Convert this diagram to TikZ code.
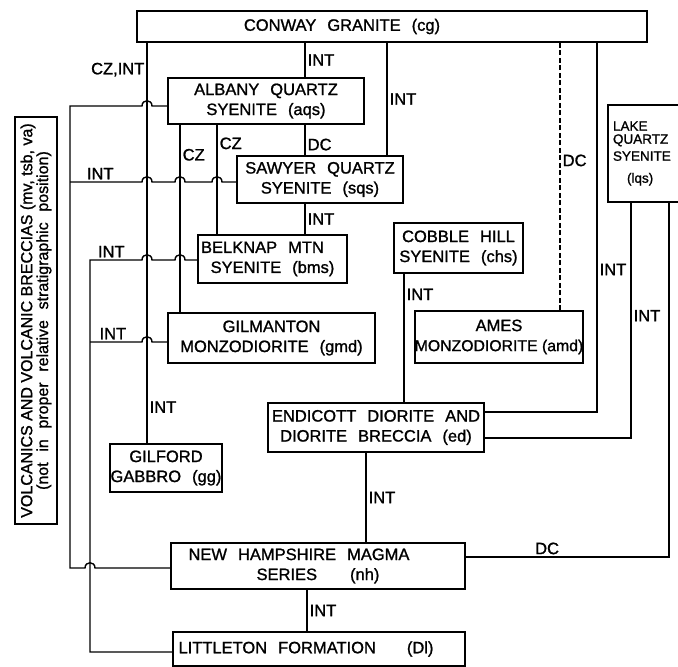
\documentclass[tikz,border=0pt]{standalone}
\usepackage{fontspec}
\setmainfont{Liberation Sans}[WordSpace=2.4, FakeBold=1.2]
\newfontfamily\tightfont{Liberation Sans}[FakeBold=1.2]

% line hops where a horizontal crosses a vertical (going left / going right)
\newcommand{\hopl}[2]{-- (#1+5,#2) .. controls (#1+5,#2-7) and (#1-5,#2-7) .. (#1-5,#2)}
\newcommand{\hopr}[2]{-- (#1-5,#2) .. controls (#1-5,#2-7) and (#1+5,#2-7) .. (#1+5,#2)}

\begin{document}
\begin{tikzpicture}[x=1pt, y=-1pt,
    font=\fontsize{16.5}{20}\selectfont,
    unit/.style={draw, line width=1.6pt, inner sep=2pt, align=center},
    link/.style={line width=1.4pt},
    lab/.style={inner sep=2pt}]

    \useasboundingbox (0,0) rectangle (678,667);

    % Rock units
    \node[unit, minimum width=510, minimum height=31] (cg) at (392,26.5) {CONWAY GRANITE (cg)\hspace*{100pt}};
    \node[unit, minimum width=196, minimum height=46] (aqs) at (266,101) {ALBANY QUARTZ\\SYENITE (aqs)};
    \node[unit, minimum width=166, minimum height=47] (sqs) at (320,179.5) {SAWYER QUARTZ\\SYENITE (sqs)};
    \node[unit, minimum width=149, minimum height=48] (bms) at (272.5,259) {BELKNAP MTN\hspace*{20pt}\\SYENITE (bms)};
    \node[unit, minimum width=207, minimum height=50] (gmd) at (271.5,338) {GILMANTON\\MONZODIORITE (gmd)};
    \node[unit, minimum width=129, minimum height=50] (chs) at (458.5,248) {COBBLE HILL\\SYENITE (chs)};
    \node[unit, minimum width=168, minimum height=52] (amd) at (499,337) {AMES\\\makebox[162pt][c]{\tightfont\fontsize{15.8}{20}\selectfont MONZODIORITE (amd)}};
    \node[unit, minimum width=216, minimum height=49] (ed) at (376,427.5) {ENDICOTT DIORITE AND\\DIORITE BRECCIA (ed)};
    \node[unit, minimum width=112, minimum height=48] (gg) at (166,468) {GILFORD\\\makebox[106pt][c]{GABBRO (gg)}};
    \node[unit, minimum width=294, minimum height=46] (nh) at (318,566) {NEW HAMPSHIRE MAGMA\hspace*{38pt}\\SERIES\hspace{22pt} (nh)};
    \node[unit, minimum width=292, minimum height=34] (dl) at (319,649) {LITTLETON FORMATION\hspace{20pt} (Dl)\hspace*{26pt}};
    \node[unit, minimum width=82, minimum height=97, text width=72, align=left,
          font=\fontsize{13.5}{13}\selectfont\tightfont] (lqs) at (649,153.5)
          {LAKE\\QUARTZ\\[4pt]SYENITE\\[9pt]\hspace*{14pt}(lqs)};
    \node[unit, rotate=90, minimum width=407, minimum height=42,
          font=\fontsize{16}{14}\selectfont] (volc) at (36,320.5)
          {{\tightfont VOLCANICS AND VOLCANIC BRECCIAS (mv, tsb, va)}\\(not in proper relative stratigraphic position)};

    % Contacts below Conway Granite
    \draw[link] (147,0 |- cg.south) -- node[lab, left, pos=0.067] {CZ,INT} node[lab, right, pos=0.91] {INT} (147,0 |- gg.north);
    \draw[link] (305,0 |- cg.south) -- node[lab, right] {INT} (305,0 |- aqs.north);
    \draw[link] (387,0 |- cg.south) -- node[lab, right] {INT} (387,0 |- sqs.north);
    \draw[link, dash pattern=on 5pt off 2.5pt] (560,0 |- cg.south) -- node[lab, right, pos=0.44] {DC} (560,0 |- amd.north);
    \draw[link] (597,0 |- cg.south) |- node[lab, right, pos=0.307] {INT} ([yshift=15.5pt]ed.east);

    % Contacts below Lake Quartz Syenite
    \draw[link] (631,0 |- lqs.south) |- node[lab, right, pos=0.24] {INT} ([yshift=-10.5pt]ed.east);
    \draw[link] (669,0 |- lqs.south) |- node[lab, above, pos=0.8] {DC} ([yshift=9pt]nh.east);

    % Central column
    \draw[link] (180,0 |- aqs.south) -- node[lab, right, pos=0.16] {CZ} (180,0 |- gmd.north);
    \draw[link] (217,0 |- aqs.south) -- node[lab, right, pos=0.17] {CZ} (217,0 |- bms.north);
    \draw[link] (305,0 |- aqs.south) -- node[lab, right, pos=0.65] {DC} (305,0 |- sqs.north);
    \draw[link] (305,0 |- sqs.south) -- node[lab, right] {INT} (305,0 |- bms.north);
    \draw[link] (404,0 |- chs.south) -- node[lab, right, pos=0.16] {INT} (404,0 |- ed.north);
    \draw[link] (366,0 |- ed.south) -- node[lab, right] {INT} (366,0 |- nh.north);
    \draw[link] (307,0 |- nh.south) -- node[lab, right] {INT} (307,0 |- dl.north);

    % Left side returns (with hops)
    \draw[link] (aqs.west |- 0,106) \hopl{147}{106} -- (70,106) -- (70,568) \hopr{90}{568} -- (nh.west |- 0,568);
    \draw[link] (sqs.west |- 0,182) \hopl{217}{182} \hopl{180}{182} \hopl{147}{182} -- node[lab, above, pos=0.58] {INT} (70,182);
    \draw[link] (bms.west |- 0,260) \hopl{180}{260} \hopl{147}{260} -- node[lab, above, pos=0.59] {INT} (90,260) |- (dl.west |- 0,652);
    \draw[link] (gmd.west |- 0,342) \hopl{147}{342} -- node[lab, above, pos=0.56] {INT} (90,342);
\end{tikzpicture}
\end{document}
